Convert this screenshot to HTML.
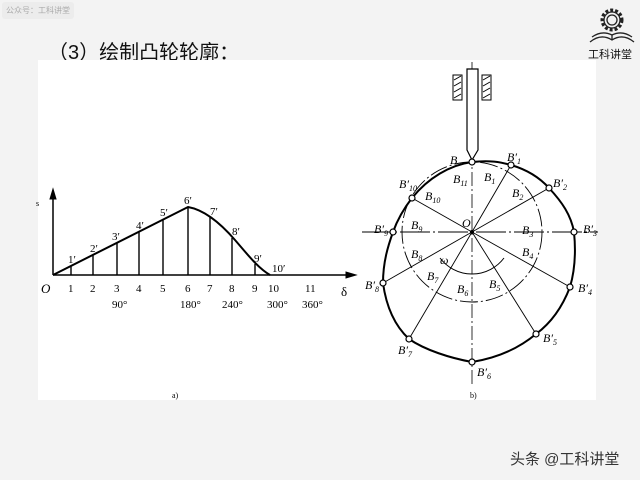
<!DOCTYPE html>
<html><head><meta charset="utf-8"><style>
body{margin:0;width:640px;height:480px;background:#f3f3f3;overflow:hidden;position:relative;font-family:"Liberation Sans","Noto Sans CJK SC",sans-serif}
.wm{position:absolute;left:2px;top:2px;width:72px;height:17px;background:#ececec;border-radius:3px;font-size:8px;color:#aaa;line-height:17px;text-align:center}
.title{position:absolute;left:48px;top:36px;font-size:20px;color:#111}
.logo{position:absolute;left:588px;top:46px;font-size:11px;color:#111}
.tt{position:absolute;left:510px;top:448px;font-size:15px;color:#333}
svg{position:absolute;left:0;top:0}
</style></head><body>
<div class="wm">公众号：工科讲堂</div>
<div class="title">（3）绘制凸轮轮廓：</div>
<div class="logo">工科讲堂</div>
<div class="tt">头条 @工科讲堂</div>
<svg width="640" height="480" viewBox="0 0 640 480" font-family="Liberation Serif,serif" font-size="11">
<rect x="38" y="60" width="558" height="340" fill="#fff"/>
<!-- logo gear -->
<g fill="none" stroke="#222" stroke-width="1.3">
<circle cx="612" cy="20" r="10" stroke-dasharray="3,2" stroke-width="3"/>
<circle cx="612" cy="20" r="8"/><circle cx="612" cy="20" r="5"/>
<path d="M590 42 Q601 33 612 40 Q623 33 634 42 M592 37 Q602 30 612 35 Q622 30 632 37 M612 35 V40"/>
</g>
<!-- graph -->
<g stroke="#000" fill="none">
<line x1="53" y1="275" x2="350" y2="275" stroke-width="1.5"/>
<polygon points="356,275 346,272 346,278" fill="#000"/>
<line x1="53" y1="275" x2="53" y2="195" stroke-width="1.5"/>
<polygon points="53,189 50,199 56,199" fill="#000"/>
<path d="M53 275 L188 207 C205 210 222 225 235 240 C248 255 258 268 270 275" stroke-width="2"/>
<g stroke-width="1.4">
<line x1="71" y1="275" x2="71" y2="266"/><line x1="93" y1="275" x2="93" y2="255"/>
<line x1="117" y1="275" x2="117" y2="243"/><line x1="139" y1="275" x2="139" y2="232"/>
<line x1="163" y1="275" x2="163" y2="220"/><line x1="188" y1="275" x2="188" y2="207"/>
<line x1="210" y1="275" x2="210" y2="217"/><line x1="232" y1="275" x2="232" y2="238"/>
<line x1="255" y1="275" x2="255" y2="264"/>
</g></g>
<g fill="#000">
<text x="41" y="293" font-style="italic" font-size="13">O</text>
<text x="36" y="206" font-size="8">s</text>
<text x="341" y="296" font-size="13">δ</text>
<text x="68" y="292">1</text><text x="90" y="292">2</text><text x="114" y="292">3</text><text x="136" y="292">4</text><text x="160" y="292">5</text><text x="185" y="292">6</text><text x="207" y="292">7</text><text x="229" y="292">8</text><text x="252" y="292">9</text><text x="268" y="292">10</text><text x="305" y="292">11</text>
<text x="68" y="263">1′</text><text x="90" y="252">2′</text><text x="112" y="240">3′</text><text x="136" y="229">4′</text><text x="160" y="216">5′</text><text x="184" y="204">6′</text><text x="210" y="215">7′</text><text x="232" y="235">8′</text><text x="254" y="262">9′</text><text x="272" y="272">10′</text>
<text x="112" y="308">90°</text><text x="180" y="308">180°</text><text x="222" y="308">240°</text><text x="267" y="308">300°</text><text x="302" y="308">360°</text>
<text x="172" y="398" font-size="8">a)</text><text x="470" y="398" font-size="8">b)</text>
</g>
<!-- cam -->
<g stroke="#000" fill="none">
<line x1="472" y1="62" x2="472" y2="385" stroke-width="0.8" stroke-dasharray="14,3,2,3"/>
<line x1="362" y1="232" x2="598" y2="232" stroke-width="1" stroke-dasharray="30,3,2,3"/>
<circle cx="472" cy="232" r="70" stroke-width="0.9" stroke-dasharray="18,3,2,3"/>
<path d="M467 69 H478 V150 L472 160 L467 150 Z" fill="#fff" stroke-width="1.2"/>
<rect x="453" y="75" width="9" height="25" stroke-width="1"/><rect x="482" y="75" width="9" height="25" stroke-width="1"/>
<path d="M454 80 L461 76 M454 86 L461 82 M454 92 L461 88 M454 98 L461 94 M483 80 L490 76 M483 86 L490 82 M483 92 L490 88 M483 98 L490 94" stroke-width="1"/>
<g stroke-width="0.9">
<line x1="472" y1="232" x2="511" y2="165"/><line x1="472" y1="232" x2="549" y2="188"/>
<line x1="472" y1="232" x2="570" y2="287"/><line x1="472" y1="232" x2="536" y2="334"/>
<line x1="472" y1="232" x2="409" y2="339"/><line x1="472" y1="232" x2="383" y2="283"/>
<line x1="472" y1="232" x2="412" y2="198"/>
</g>
<path d="M440 258 A40 40 0 0 0 504 258" stroke-width="1"/>
<path d="M472 162 C490 160 500 162 511 165 C528 170 540 178 549 188 C562 202 571 215 574 232 C576 252 575 270 570 287 C562 308 551 323 536 334 C518 349 497 358 472 362 C450 358 425 350 409 339 C394 325 386 305 383 283 C383 262 388 246 393 232 C398 218 405 207 412 198 C428 178 450 165 472 162 Z" stroke-width="2"/>
</g>
<g fill="#fff" stroke="#000" stroke-width="1.2">
<circle cx="472" cy="162" r="3"/><circle cx="511" cy="165" r="3"/><circle cx="549" cy="188" r="3"/><circle cx="574" cy="232" r="3"/><circle cx="570" cy="287" r="3"/><circle cx="536" cy="334" r="3"/><circle cx="472" cy="362" r="3"/><circle cx="409" cy="339" r="3"/><circle cx="383" cy="283" r="3"/><circle cx="393" cy="232" r="3"/><circle cx="412" cy="198" r="3"/>
</g>
<circle cx="472" cy="232" r="2" fill="#000"/>
<g fill="#000" font-style="italic" font-size="12">
<text x="450" y="164">B</text><text x="453" y="183">B<tspan font-size="8" dy="3">11</tspan></text>
<text x="484" y="181">B<tspan font-size="8" dy="3">1</tspan></text><text x="512" y="197">B<tspan font-size="8" dy="3">2</tspan></text>
<text x="522" y="234">B<tspan font-size="8" dy="3">3</tspan></text><text x="522" y="256">B<tspan font-size="8" dy="3">4</tspan></text>
<text x="489" y="288">B<tspan font-size="8" dy="3">5</tspan></text><text x="457" y="293">B<tspan font-size="8" dy="3">6</tspan></text>
<text x="427" y="280">B<tspan font-size="8" dy="3">7</tspan></text><text x="411" y="258">B<tspan font-size="8" dy="3">8</tspan></text>
<text x="411" y="229">B<tspan font-size="8" dy="3">9</tspan></text><text x="425" y="200">B<tspan font-size="8" dy="3">10</tspan></text>
<text x="462" y="227">O</text><text x="440" y="264">ω</text>
<text x="507" y="161">B′<tspan font-size="8" dy="3">1</tspan></text><text x="553" y="187">B′<tspan font-size="8" dy="3">2</tspan></text>
<text x="583" y="233">B′<tspan font-size="8" dy="3">3</tspan></text><text x="578" y="292">B′<tspan font-size="8" dy="3">4</tspan></text>
<text x="543" y="342">B′<tspan font-size="8" dy="3">5</tspan></text><text x="477" y="376">B′<tspan font-size="8" dy="3">6</tspan></text>
<text x="398" y="354">B′<tspan font-size="8" dy="3">7</tspan></text><text x="365" y="289">B′<tspan font-size="8" dy="3">8</tspan></text>
<text x="374" y="233">B′<tspan font-size="8" dy="3">9</tspan></text><text x="399" y="188">B′<tspan font-size="8" dy="3">10</tspan></text>
</g>
</svg>
</body></html>
